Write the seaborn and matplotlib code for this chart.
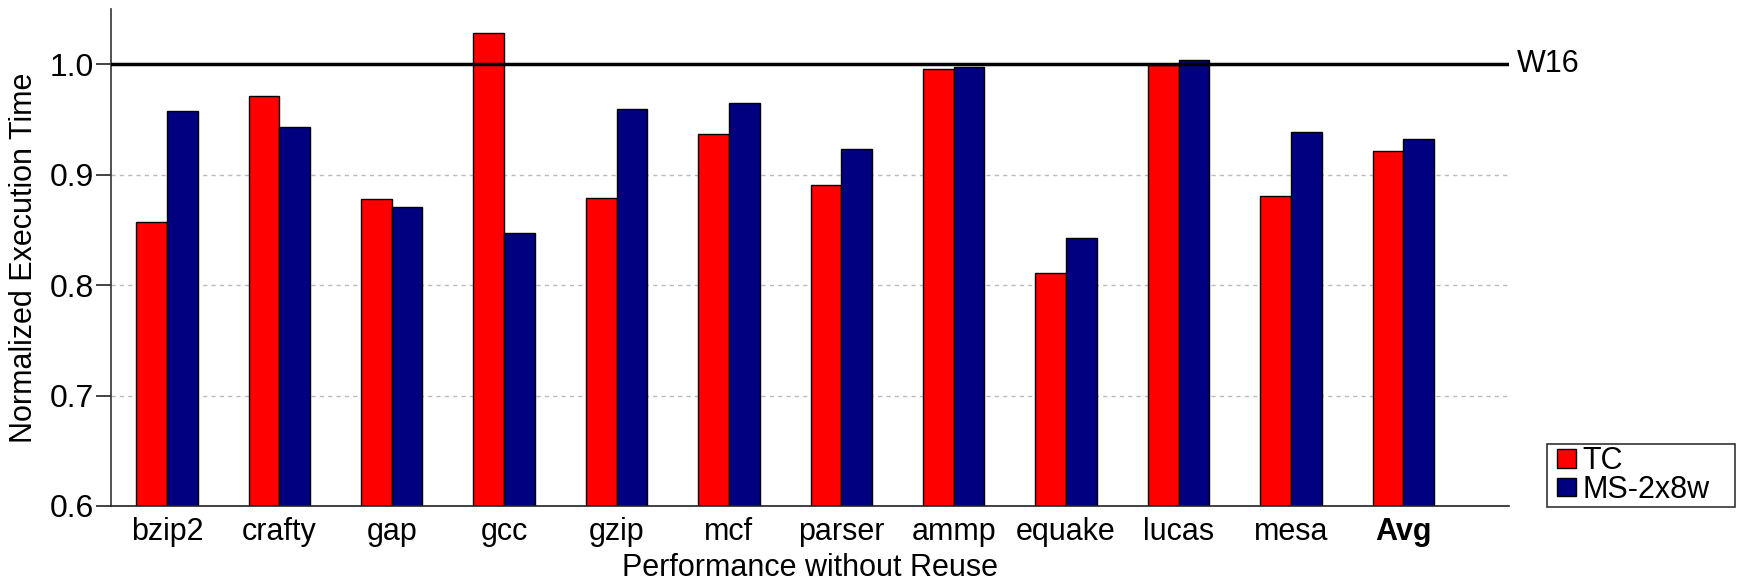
import matplotlib
matplotlib.use("Agg")
import matplotlib.pyplot as plt
import matplotlib.patches as mpatches
import seaborn as sns
import pandas as pd

categories = ["bzip2", "crafty", "gap", "gcc", "gzip", "mcf", "parser",
              "ammp", "equake", "lucas", "mesa", "Avg"]
tc = [0.857, 0.971, 0.878, 1.028, 0.879, 0.937, 0.891, 0.996, 0.811, 0.999, 0.881, 0.921]
ms = [0.958, 0.943, 0.871, 0.847, 0.959, 0.965, 0.923, 0.997, 0.843, 1.004, 0.939, 0.932]
series_names = ["TC", "MS-2x8w"]
yticks = [0.6, 0.7, 0.8, 0.9, 1.0]
baseline_value = 1.0
baseline_label = "W16"

df = pd.DataFrame({
    "bench": categories * 2,
    "value": tc + ms,
    "config": [series_names[0]] * len(categories) + [series_names[1]] * len(categories),
})

sns.set_style("white")
plt.rcParams["font.family"] = ["Liberation Sans", "DejaVu Sans"]
plt.rcParams["text.color"] = "black"
plt.rcParams["axes.labelcolor"] = "black"
plt.rcParams["xtick.color"] = "black"
plt.rcParams["ytick.color"] = "black"
plt.rcParams["ytick.left"] = True
FS = 22

fig = plt.figure(figsize=(17.37, 5.82), dpi=100)
ax = fig.add_axes([0.0638, 0.1306, 0.8049, 0.8541])

sns.barplot(data=df, x="bench", y="value", hue="config", order=categories,
            hue_order=series_names, palette=["#FF0000", "#000080"],
            width=0.546, edgecolor="black", linewidth=1.0, saturation=1,
            ax=ax, legend=True)

ax.set_ylim(0.6, 1.05)
ax.set_xlim(-0.5, 11.94)
ax.set_yticks(yticks)
ax.set_yticklabels([f"{v:.1f}" for v in yticks], fontsize=23)
for lbl in ax.get_xticklabels():
    if lbl.get_text() == "Avg":
        lbl.set_fontweight("bold")

ax.yaxis.grid(True, linestyle=(0, (3, 3)), color="#bbbbbb", linewidth=1.0)
ax.xaxis.grid(False)
ax.set_axisbelow(True)

ax.axhline(baseline_value, color="black", linewidth=2.5, zorder=4)
ax.text(1.006, baseline_value, baseline_label, transform=ax.get_yaxis_transform(),
        fontsize=FS, va="center", ha="left")

for s in ["top", "right"]:
    ax.spines[s].set_visible(False)
ax.spines["left"].set_color("#333333")
ax.spines["bottom"].set_color("#222222")
for s in ["left", "bottom"]:
    ax.spines[s].set_linewidth(1.2)

ax.set_xlabel("Performance without Reuse", fontsize=FS, labelpad=4)
ax.set_ylabel("Normalized Execution Time", fontsize=FS, labelpad=8)

# legend: frame drawn as a figure rectangle, entries as a figure legend above it
handles, labels = ax.get_legend_handles_labels()
ax.get_legend().remove()
W, H = 1737.0, 582.0
frame = mpatches.Rectangle((1547 / W, 1 - 507 / H), 188 / W, 63 / H,
                           transform=fig.transFigure, facecolor="white",
                           edgecolor="#333333", linewidth=1.2, zorder=5)
fig.patches.append(frame)
leg = fig.legend(handles, labels, loc="center left",
                 bbox_to_anchor=(1557 / W, 1 - 475.5 / H),
                 bbox_transform=fig.transFigure, fontsize=FS, frameon=False,
                 handlelength=0.62, handleheight=0.56, handletextpad=0.22,
                 borderpad=0.0, labelspacing=-0.05, borderaxespad=0)
leg.set_zorder(6)

ax.tick_params(axis="x", which="both", bottom=False, length=0, labelsize=FS, pad=8)
ax.tick_params(axis="y", which="major", left=True, direction="out", length=11,
               width=1.2, color="#222222", pad=1)

fig.savefig("out.png", dpi=100)
